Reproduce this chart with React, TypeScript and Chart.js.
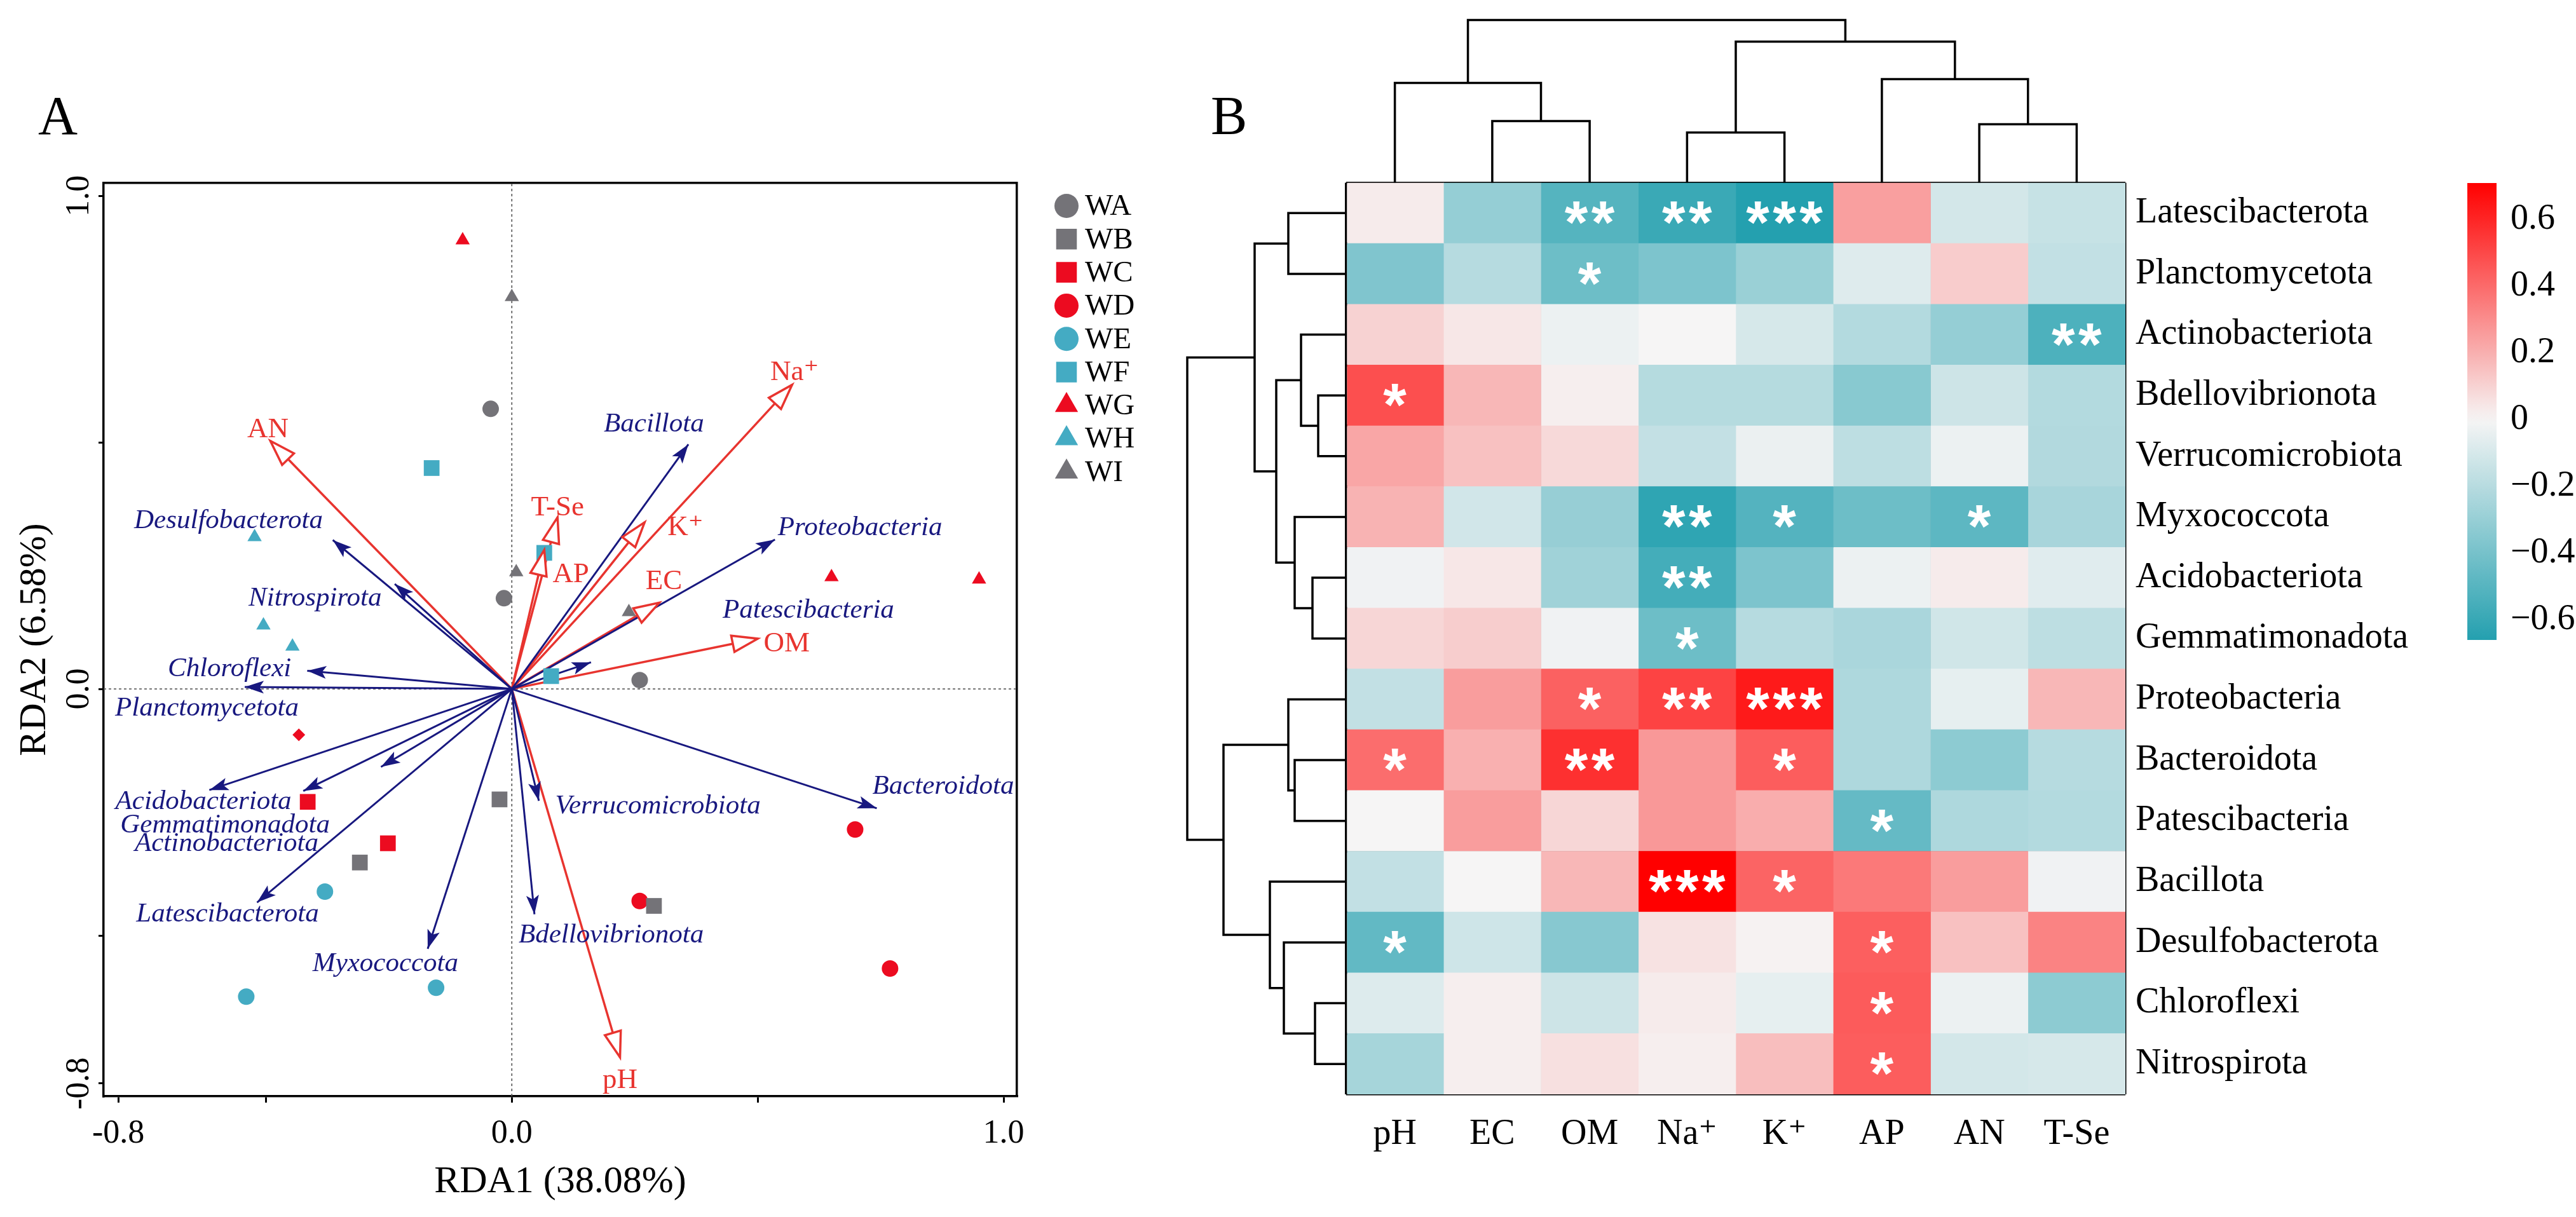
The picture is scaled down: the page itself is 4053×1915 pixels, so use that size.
import React, { useEffect, useRef } from 'react';
import { Chart, registerables } from 'chart.js';
import { drawPoint } from 'chart.js/helpers';

Chart.register(...registerables);

const SERIF = "'Liberation Serif', 'Times New Roman', 'DejaVu Serif', serif";
const SANS = "'Liberation Sans', 'DejaVu Sans', sans-serif";

// ================= Panel A : RDA biplot data =================
const sampleGroups = ['WA', 'WB', 'WC', 'WD', 'WE', 'WF', 'WG', 'WH', 'WI'];
const WA = [{ x: -0.043, y: 0.568 }, { x: -0.016, y: 0.184 }, { x: 0.26, y: 0.018 }];
const WB = [{ x: -0.025, y: -0.224 }, { x: -0.309, y: -0.352 }, { x: 0.289, y: -0.44 }];
const WC = [{ x: -0.415, y: -0.229 }, { x: -0.252, y: -0.313 }, { x: -0.433, y: -0.093 }];
const WD = [{ x: 0.698, y: -0.285 }, { x: 0.769, y: -0.567 }, { x: 0.26, y: -0.43 }];
const WE = [{ x: -0.38, y: -0.411 }, { x: -0.54, y: -0.624 }, { x: -0.154, y: -0.606 }];
const WF = [{ x: -0.163, y: 0.448 }, { x: 0.066, y: 0.276 }, { x: 0.08, y: 0.026 }];
const WG = [{ x: -0.1, y: 0.91 }, { x: 0.65, y: 0.227 }, { x: 0.95, y: 0.222 }];
const WH = [{ x: -0.523, y: 0.308 }, { x: -0.505, y: 0.129 }, { x: -0.446, y: 0.086 }];
const WI = [{ x: 0.0, y: 0.795 }, { x: 0.009, y: 0.237 }, { x: 0.238, y: 0.156 }];
const sampleData = [WA, WB, WC, WD, WE, WF, WG, WH, WI];

const speciesNames = [
  'Desulfobacterota', 'Nitrospirota', 'Chloroflexi', 'Planctomycetota', 'Acidobacteriota',
  'Gemmatimonadota', 'Actinobacteriota', 'Latescibacterota', 'Myxococcota', 'Verrucomicrobiota',
  'Bdellovibrionota', 'Bacteroidota', 'Patescibacteria', 'Proteobacteria', 'Bacillota',
];
const speciesX = [-0.364, -0.238, -0.416, -0.543, -0.615, -0.424, -0.266, -0.518, -0.171, 0.055, 0.046, 0.742, 0.161, 0.535, 0.359];
const speciesY = [0.302, 0.213, 0.037, 0.004, -0.205, -0.207, -0.158, -0.433, -0.527, -0.227, -0.457, -0.242, 0.054, 0.303, 0.496];
const speciesLabelX = [-0.576, -0.4, -0.574, -0.62, -0.627, -0.583, -0.58, -0.578, -0.257, 0.297, 0.202, 0.877, 0.603, 0.708, 0.289];
const speciesLabelY = [0.341, 0.184, 0.041, -0.04, -0.229, -0.276, -0.314, -0.457, -0.557, -0.238, -0.5, -0.198, 0.159, 0.327, 0.536];

const envNames = ['AN', 'T-Se', 'AP', 'K\u207A', 'EC', 'OM', 'Na\u207A', 'pH'];
const envX = [-0.491, 0.093, 0.066, 0.27, 0.3, 0.5, 0.57, 0.22];
const envY = [0.503, 0.348, 0.282, 0.338, 0.175, 0.102, 0.617, -0.747];
const envLabelX = [-0.496, 0.093, 0.12, 0.353, 0.309, 0.559, 0.575, 0.22];
const envLabelY = [0.526, 0.367, 0.232, 0.327, 0.218, 0.091, 0.642, -0.794];

const rdaXRange = [-0.83, 1.027];
const rdaYRange = [-0.826, 1.026];
const rdaTicks = [-0.8, -0.5, 0, 0.5, 1.0];
const rdaTickLabels = ['-0.8', '', '0.0', '', '1.0'];

// ================= Panel B : correlation heatmap data =================
const heatRows = [
  'Latescibacterota', 'Planctomycetota', 'Actinobacteriota', 'Bdellovibrionota', 'Verrucomicrobiota',
  'Myxococcota', 'Acidobacteriota', 'Gemmatimonadota', 'Proteobacteria', 'Bacteroidota',
  'Patescibacteria', 'Bacillota', 'Desulfobacterota', 'Chloroflexi', 'Nitrospirota',
];
const heatCols = ['pH', 'EC', 'OM', 'Na\u207A', 'K\u207A', 'AP', 'AN', 'T-Se'];
const rLatescibacterota = [0.03, -0.305, -0.507, -0.59, -0.66, 0.25, -0.11, -0.15];
const rPlanctomycetota = [-0.37, -0.2, -0.43, -0.38, -0.29, -0.075, 0.12, -0.165];
const rActinobacteriota = [0.1, 0.04, -0.03, 0.0, -0.1, -0.21, -0.305, -0.53];
const rBdellovibrionota = [0.48, 0.18, 0.02, -0.205, -0.205, -0.345, -0.13, -0.21];
const rVerrucomicrobiota = [0.23, 0.15, 0.08, -0.16, -0.035, -0.18, -0.03, -0.215];
const rMyxococcota = [0.19, -0.115, -0.3, -0.625, -0.51, -0.43, -0.48, -0.245];
const rAcidobacteriota = [-0.02, 0.04, -0.27, -0.56, -0.38, -0.03, 0.03, -0.07];
const rGemmatimonadota = [0.09, 0.115, -0.02, -0.43, -0.2, -0.24, -0.12, -0.18];
const rProteobacteria = [-0.165, 0.255, 0.43, 0.515, 0.635, -0.225, -0.05, 0.18];
const rBacteroidota = [0.395, 0.2, 0.57, 0.27, 0.44, -0.225, -0.33, -0.2];
const rPatescibacteria = [0.0, 0.255, 0.09, 0.27, 0.21, -0.455, -0.225, -0.21];
const rBacillota = [-0.165, 0.0, 0.18, 0.71, 0.42, 0.36, 0.255, -0.02];
const rDesulfobacterota = [-0.465, -0.125, -0.35, 0.055, 0.01, 0.435, 0.15, 0.33];
const rChloroflexi = [-0.08, 0.02, -0.13, 0.03, -0.05, 0.445, -0.03, -0.33];
const rNitrospirota = [-0.25, 0.02, 0.06, 0.02, 0.16, 0.44, -0.11, -0.1];
const heatValues = [
  rLatescibacterota, rPlanctomycetota, rActinobacteriota, rBdellovibrionota, rVerrucomicrobiota,
  rMyxococcota, rAcidobacteriota, rGemmatimonadota, rProteobacteria, rBacteroidota,
  rPatescibacteria, rBacillota, rDesulfobacterota, rChloroflexi, rNitrospirota,
];
const heatStars = [
  ['', '', '**', '**', '***', '', '', ''],
  ['', '', '*', '', '', '', '', ''],
  ['', '', '', '', '', '', '', '**'],
  ['*', '', '', '', '', '', '', ''],
  ['', '', '', '', '', '', '', ''],
  ['', '', '', '**', '*', '', '*', ''],
  ['', '', '', '**', '', '', '', ''],
  ['', '', '', '*', '', '', '', ''],
  ['', '', '*', '**', '***', '', '', ''],
  ['*', '', '**', '', '*', '', '', ''],
  ['', '', '', '', '', '*', '', ''],
  ['', '', '', '***', '*', '', '', ''],
  ['*', '', '', '', '', '*', '', ''],
  ['', '', '', '', '', '*', '', ''],
  ['', '', '', '', '', '*', '', ''],
];
// hierarchical clustering merges (negative = leaf index+1, positive = earlier merge), height
const colMerges = [
  [-2, -3, 97], [-7, -8, 92], [-4, -5, 79], [-1, 1, 157], [-6, 2, 163], [3, 5, 222], [4, 6, 256],
];
const rowMerges = [
  [-1, -2, 91], [-4, -5, 44], [-3, 2, 71], [-7, -8, 53], [-6, 4, 81], [3, 5, 110], [1, 6, 144],
  [-10, -11, 81], [-9, 8, 91], [-14, -15, 49], [-13, 10, 98], [-12, 11, 120], [9, 12, 193], [7, 13, 250],
];
const cbMin = -0.66;
const cbMax = 0.71;
const cbTicks = [-0.6, -0.4, -0.2, 0, 0.2, 0.4, 0.6];
const cbTickLabels = ['\u22120.6', '\u22120.4', '\u22120.2', '0', '0.2', '0.4', '0.6'];

// ================= styles =================
const GRAY = '#747378';
const RED = '#EC0B20';
const CYAN = '#44ABC3';
const NAVY = '#18187F';
const ENV_RED = '#E8342F';
const groupColor = [GRAY, GRAY, RED, RED, CYAN, CYAN, RED, CYAN, GRAY];
const groupStyle = ['circle', 'rect', 'rect', 'circle', 'circle', 'rect', 'triangle', 'triangle', 'triangle'];
const styleRadius: any = { circle: 13, rect: 17.5, triangle: 13, rectRot: 10 };
const legendRadius: any = { circle: 19, rect: 23, triangle: 21 };

const LOW_RGB = [36, 160, 175];
const MID_RGB = [246, 245, 245];
const HIGH_RGB = [255, 0, 0];
function mix(a: number[], b: number[], t: number) {
  const c = a.map((v, i) => Math.round(v + (b[i] - v) * t));
  return `rgb(${c[0]},${c[1]},${c[2]})`;
}
function heatColor(v: number) {
  if (v >= 0) return mix(MID_RGB, HIGH_RGB, Math.min(1, v / cbMax));
  return mix(MID_RGB, LOW_RGB, Math.min(1, v / cbMin));
}

// ================= plugins =================
const arrowPlugin = {
  id: 'rdaArrows',
  afterDatasetsDraw(chart: any) {
    const ctx = chart.ctx;
    chart.data.datasets.forEach((ds: any, i: number) => {
      if (!ds.arrowKind) return;
      const pts = chart.getDatasetMeta(i).data;
      const o = pts[0];
      const t = pts[1];
      const ang = Math.atan2(t.y - o.y, t.x - o.x);
      const dx = Math.cos(ang);
      const dy = Math.sin(ang);
      ctx.save();
      if (ds.arrowKind === 'open') {
        const L = 40;
        const W = 13;
        const bx = t.x - dx * L;
        const by = t.y - dy * L;
        ctx.beginPath();
        ctx.moveTo(t.x, t.y);
        ctx.lineTo(bx - dy * W, by + dx * W);
        ctx.lineTo(bx + dy * W, by - dx * W);
        ctx.closePath();
        ctx.fillStyle = '#fff';
        ctx.fill();
        ctx.lineWidth = 3.5;
        ctx.strokeStyle = ds.borderColor;
        ctx.lineJoin = 'miter';
        ctx.stroke();
      } else {
        const L = 30;
        const W = 10;
        const bx = t.x - dx * L;
        const by = t.y - dy * L;
        const nx = t.x - dx * L * 0.78;
        const ny = t.y - dy * L * 0.78;
        ctx.beginPath();
        ctx.moveTo(t.x, t.y);
        ctx.lineTo(bx - dy * W, by + dx * W);
        ctx.lineTo(nx, ny);
        ctx.lineTo(bx + dy * W, by - dx * W);
        ctx.closePath();
        ctx.fillStyle = ds.borderColor;
        ctx.fill();
      }
      ctx.restore();
    });
  },
};

const rdaTextPlugin = {
  id: 'rdaText',
  afterDatasetsDraw(chart: any) {
    const ctx = chart.ctx;
    const xs = chart.scales.x;
    const ys = chart.scales.y;
    ctx.save();
    ctx.textAlign = 'center';
    ctx.textBaseline = 'middle';
    ctx.font = `italic 43px ${SERIF}`;
    ctx.fillStyle = NAVY;
    speciesNames.forEach((n, i) => {
      ctx.fillText(n, xs.getPixelForValue(speciesLabelX[i]), ys.getPixelForValue(speciesLabelY[i]));
    });
    ctx.font = `45px ${SERIF}`;
    ctx.fillStyle = ENV_RED;
    envNames.forEach((n, i) => {
      ctx.fillText(n, xs.getPixelForValue(envLabelX[i]), ys.getPixelForValue(envLabelY[i]));
    });
    ctx.restore();
  },
};

const rdaLegendPlugin = {
  id: 'rdaLegend',
  afterDraw(chart: any) {
    const ctx = chart.ctx;
    const area = chart.chartArea;
    const mx = area.right + 78;
    const y0 = area.top + 36;
    const step = 52.3;
    ctx.save();
    ctx.font = `47px ${SERIF}`;
    ctx.textAlign = 'left';
    ctx.textBaseline = 'middle';
    sampleGroups.forEach((name, i) => {
      const ds = chart.data.datasets[i];
      const y = y0 + i * step;
      const style = groupStyle[i];
      ctx.fillStyle = ds.backgroundColor;
      drawPoint(ctx, { pointStyle: style, radius: legendRadius[style], rotation: 0, borderWidth: 0 } as any, mx, y);
      ctx.fillStyle = '#000';
      ctx.fillText(name, mx + 29, y + 2);
    });
    ctx.restore();
  },
};

const starPlugin = {
  id: 'heatStars',
  afterDraw(chart: any) {
    const ctx = chart.ctx;
    const xs = chart.scales.x;
    const ys = chart.scales.y;
    ctx.save();
    ctx.fillStyle = '#fff';
    ctx.font = `bold 94px ${SANS}`;
    ctx.textAlign = 'center';
    ctx.textBaseline = 'alphabetic';
    const m = ctx.measureText('*');
    const off = (m.actualBoundingBoxAscent - m.actualBoundingBoxDescent) / 2;
    heatStars.forEach((row, i) => {
      row.forEach((s, j) => {
        if (!s) return;
        const cx = xs.getPixelForValue(j + 0.5);
        const cy = ys.getPixelForValue(i);
        const n = s.length;
        for (let k = 0; k < n; k++) {
          ctx.fillText('*', cx + (k - (n - 1) / 2) * 42, cy + off);
        }
      });
    });
    ctx.restore();
  },
};

function dendroPaths(merges: number[][], leafPos: (i: number) => number) {
  const pos: number[] = [];
  const hts: number[] = [];
  const nPos = (id: number) => (id < 0 ? leafPos(-id - 1) : pos[id - 1]);
  const nH = (id: number) => (id < 0 ? 0 : hts[id - 1]);
  const paths: number[][][] = [];
  merges.forEach(([a, b, h], k) => {
    const pa = nPos(a);
    const pb = nPos(b);
    paths.push([[pa, nH(a)], [pa, h], [pb, h], [pb, nH(b)]]);
    pos[k] = (pa + pb) / 2;
    hts[k] = h;
  });
  return paths;
}

// ================= configs =================
function rdaConfig(): any {
  const pointSets = sampleGroups.map((g, i) => {
    const style = groupStyle[i];
    const styles = sampleData[i].map((_, k) => (g === 'WC' && k === 2 ? 'rectRot' : style));
    return {
      label: g,
      data: sampleData[i],
      backgroundColor: groupColor[i],
      pointBackgroundColor: groupColor[i],
      pointStyle: styles,
      pointRadius: styles.map((s) => styleRadius[s]),
      pointBorderWidth: 0,
      showLine: false,
    };
  });
  const speciesSets = speciesNames.map((n, i) => ({
    label: n,
    data: [{ x: 0, y: 0 }, { x: speciesX[i], y: speciesY[i] }],
    showLine: true,
    borderColor: NAVY,
    borderWidth: 3,
    pointRadius: 0,
    arrowKind: 'filled',
  }));
  const envSets = envNames.map((n, i) => ({
    label: n,
    data: [{ x: 0, y: 0 }, { x: envX[i], y: envY[i] }],
    showLine: true,
    borderColor: ENV_RED,
    borderWidth: 3.5,
    pointRadius: 0,
    arrowKind: 'open',
  }));
  const zeroSets = [
    { label: 'h0', data: [{ x: rdaXRange[0], y: 0 }, { x: rdaXRange[1], y: 0 }] },
    { label: 'v0', data: [{ x: 0, y: rdaYRange[0] }, { x: 0, y: rdaYRange[1] }] },
  ].map((d) => ({ ...d, showLine: true, borderColor: '#555', borderWidth: 1.6, borderDash: [4, 4], pointRadius: 0 }));

  const tickFont = { family: SERIF, size: 52 };
  return {
    type: 'scatter',
    data: { datasets: [...pointSets, ...speciesSets, ...envSets, ...zeroSets] },
    options: {
      animation: false,
      responsive: false,
      events: [],
      layout: { padding: { left: 0, top: 288, right: 350, bottom: 0 } },
      plugins: { legend: { display: false }, tooltip: { enabled: false } },
      scales: {
        x: {
          type: 'linear',
          position: 'bottom',
          min: rdaXRange[0],
          max: rdaXRange[1],
          afterBuildTicks: (s: any) => { s.ticks = rdaTicks.map((v) => ({ value: v })); },
          ticks: {
            callback: (_v: any, i: number) => rdaTickLabels[i],
            font: tickFont, color: '#000', padding: 18, maxRotation: 0, autoSkip: false,
          },
          grid: { drawOnChartArea: false, drawTicks: true, tickLength: 10, color: '#000', lineWidth: 3 },
          border: { display: true, color: '#000', width: 3.5 },
          title: { display: true, text: 'RDA1 (38.08%)', font: { family: SERIF, size: 60 }, color: '#000', padding: { top: 0, bottom: 19 } },
          afterFit: (s: any) => { s.height = 190; },
        },
        y: {
          type: 'linear',
          position: 'left',
          min: rdaYRange[0],
          max: rdaYRange[1],
          afterBuildTicks: (s: any) => { s.ticks = rdaTicks.map((v) => ({ value: v })); },
          ticks: {
            callback: (_v: any, i: number) => rdaTickLabels[i],
            font: tickFont, color: '#000', padding: -12, minRotation: 90, maxRotation: 90,
            crossAlign: 'center', autoSkip: false,
          },
          grid: { drawOnChartArea: false, drawTicks: true, tickLength: 8, color: '#000', lineWidth: 3 },
          border: { display: true, color: '#000', width: 3.5 },
          title: { display: true, text: 'RDA2 (6.58%)', font: { family: SERIF, size: 60 }, color: '#000', padding: { top: 19, bottom: 0 } },
          afterFit: (s: any) => { s.width = 163; },
        },
        xTop: {
          type: 'linear', position: 'top', min: rdaXRange[0], max: rdaXRange[1],
          ticks: { display: false }, grid: { display: false, drawTicks: false },
          border: { display: true, color: '#000', width: 3.5 },
          afterFit: (s: any) => { s.height = 0; },
        },
        yRight: {
          type: 'linear', position: 'right', min: rdaYRange[0], max: rdaYRange[1],
          ticks: { display: false }, grid: { display: false, drawTicks: false },
          border: { display: true, color: '#000', width: 3.5 },
          afterFit: (s: any) => { s.width = 0; },
        },
      },
    },
    plugins: [arrowPlugin, rdaTextPlugin, rdaLegendPlugin],
  };
}

function heatConfig(): any {
  const datasets = heatCols.map((col, j) => ({
    label: col,
    data: heatRows.map(() => [j, j + 1]),
    backgroundColor: heatValues.map((row) => heatColor(row[j])),
    borderWidth: 0,
    grouped: false,
    barPercentage: 1,
    categoryPercentage: 1,
  }));
  const labelFont = { family: SERIF, size: 56 };
  return {
    type: 'bar',
    data: { labels: heatRows, datasets },
    options: {
      indexAxis: 'y',
      animation: false,
      responsive: false,
      events: [],
      layout: { padding: { left: 318, top: 287.5, right: 209, bottom: 0 } },
      plugins: { legend: { display: false }, tooltip: { enabled: false } },
      scales: {
        x: {
          type: 'linear', position: 'bottom', min: 0, max: heatCols.length, z: 1,
          ticks: { display: false, stepSize: 1 },
          grid: { color: '#000', lineWidth: 3.5, drawTicks: false },
          border: { display: false },
          afterFit: (s: any) => { s.height = 0; },
        },
        xLabels: {
          type: 'category', axis: 'x', labels: heatCols, position: 'bottom', offset: true,
          grid: { display: false, drawTicks: false }, border: { display: false },
          ticks: { font: labelFont, color: '#000', padding: 30, maxRotation: 0, autoSkip: false },
          afterFit: (s: any) => { s.height = 193; },
        },
        y: {
          type: 'category', position: 'right', offset: true, z: 1,
          grid: { offset: true, color: '#000', lineWidth: 3.5, drawTicks: false },
          border: { display: false },
          ticks: { font: labelFont, color: '#000', padding: 16, autoSkip: false },
          afterFit: (s: any) => { s.width = 500; },
        },
      },
    },
    plugins: [starPlugin],
  };
}

function dendroConfig(paths: number[][][], orient: 'top' | 'left', padding: any, hMax: number, nLeaves: number): any {
  const datasets = paths.map((p, k) => ({
    label: `m${k}`,
    data: p.map(([pos, h]) => (orient === 'top' ? { x: pos, y: h } : { x: h, y: pos })),
    showLine: true,
    borderColor: '#000',
    borderWidth: 3.5,
    pointRadius: 0,
    tension: 0,
    clip: false,
  }));
  const posScale = { type: 'linear', display: false, min: 0, max: nLeaves, reverse: orient === 'left' };
  const hScale = { type: 'linear', display: false, min: 0, max: hMax, reverse: orient === 'left' };
  return {
    type: 'scatter',
    data: { datasets },
    options: {
      animation: false,
      responsive: false,
      events: [],
      layout: { padding },
      plugins: { legend: { display: false }, tooltip: { enabled: false } },
      scales: orient === 'top' ? { x: posScale, y: hScale } : { x: hScale, y: posScale },
    },
  };
}

function colorbarConfig(): any {
  return {
    type: 'bar',
    data: {
      labels: [''],
      datasets: [{
        data: [[cbMin, cbMax]],
        backgroundColor: (c: any) => {
          const chart = c.chart;
          if (!chart.chartArea) return '#ccc';
          const ys = chart.scales.y;
          const g = chart.ctx.createLinearGradient(0, ys.getPixelForValue(cbMin), 0, ys.getPixelForValue(cbMax));
          for (let k = 0; k <= 40; k++) {
            g.addColorStop(k / 40, heatColor(cbMin + ((cbMax - cbMin) * k) / 40));
          }
          return g;
        },
        borderWidth: 0,
        barPercentage: 1,
        categoryPercentage: 1,
      }],
    },
    options: {
      animation: false,
      responsive: false,
      events: [],
      layout: { padding: { left: 82, top: 288, right: 0, bottom: 908 } },
      plugins: { legend: { display: false }, tooltip: { enabled: false } },
      scales: {
        x: { display: false },
        y: {
          position: 'right', min: cbMin, max: cbMax,
          afterBuildTicks: (s: any) => { s.ticks = cbTicks.map((v) => ({ value: v })); },
          ticks: { callback: (_v: any, i: number) => cbTickLabels[i], font: { family: SERIF, size: 56 }, color: '#000', padding: 22, autoSkip: false },
          grid: { display: false, drawTicks: false },
          border: { display: false },
          afterFit: (s: any) => { s.width = 125; },
        },
      },
    },
  };
}

const abs = (left: number, top: number, w: number, h: number): any => ({ position: 'absolute', left, top, width: w, height: h });

export default function App() {
  const aRef = useRef<HTMLCanvasElement>(null);
  const hRef = useRef<HTMLCanvasElement>(null);
  const tRef = useRef<HTMLCanvasElement>(null);
  const lRef = useRef<HTMLCanvasElement>(null);
  const cRef = useRef<HTMLCanvasElement>(null);

  useEffect(() => {
    const charts = [
      new Chart(aRef.current as any, rdaConfig()),
      new Chart(hRef.current as any, heatConfig()),
      new Chart(tRef.current as any, dendroConfig(dendroPaths(colMerges, (i) => i + 0.5), 'top', { left: 318, right: 709, top: 20, bottom: 12.5 }, 267.5, heatCols.length)),
      new Chart(lRef.current as any, dendroConfig(dendroPaths(rowMerges, (i) => i + 0.5), 'left', { left: 60, right: 12, top: 287.5, bottom: 193 }, 258, heatRows.length)),
      new Chart(cRef.current as any, colorbarConfig()),
    ];
    return () => charts.forEach((c) => c.destroy());
  }, []);

  const panelLabel = { position: 'absolute', fontFamily: SERIF, fontSize: 86, lineHeight: '86px', color: '#000' } as any;

  return (
    <div style={{ position: 'absolute', left: 0, top: 0, width: 4053, height: 1915, background: '#fff', overflow: 'hidden' }}>
      <div style={{ ...panelLabel, left: 60, top: 139 }}>A</div>
      <div style={{ ...panelLabel, left: 1905, top: 139 }}>B</div>
      <canvas ref={aRef} width={1950} height={1915} style={abs(0, 0, 1950, 1915)} />
      <canvas ref={hRef} width={2253} height={1915} style={abs(1800, 0, 2253, 1915)} />
      <canvas ref={tRef} width={2253} height={300} style={abs(1800, 0, 2253, 300)} />
      <canvas ref={lRef} width={330} height={1915} style={abs(1800, 0, 330, 1915)} />
      <canvas ref={cRef} width={253} height={1915} style={abs(3800, 0, 253, 1915)} />
    </div>
  );
}
